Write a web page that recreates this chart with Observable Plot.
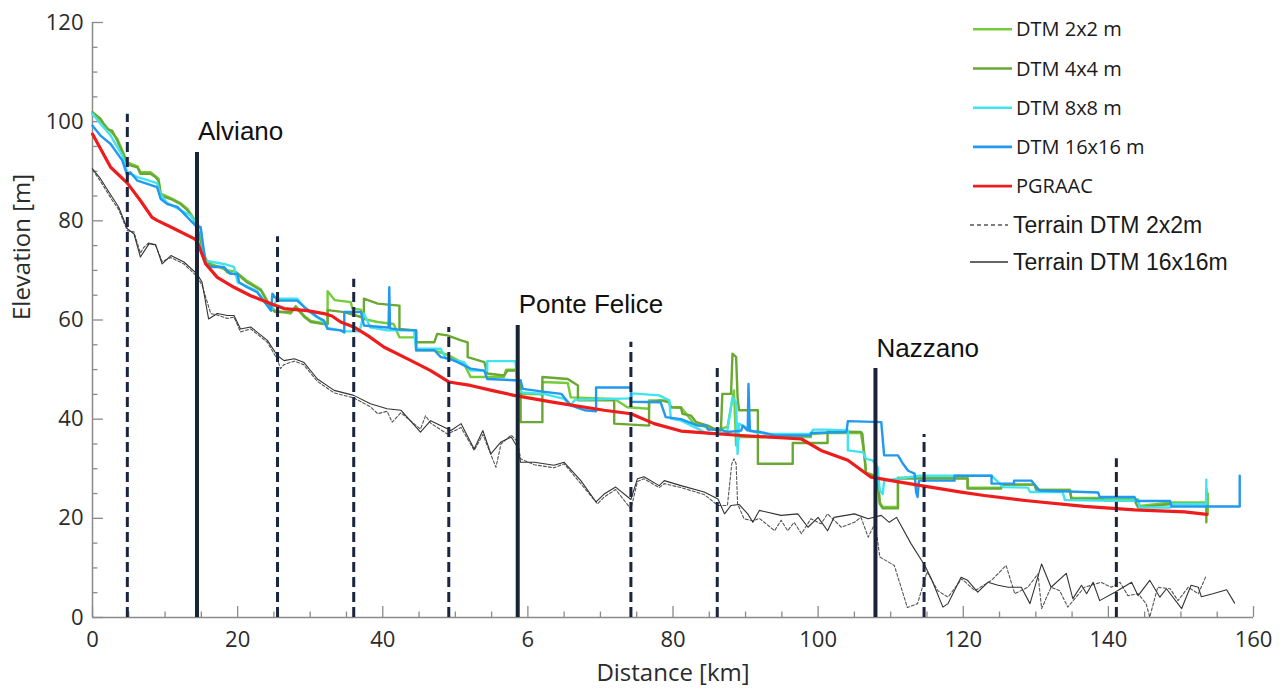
<!DOCTYPE html>
<html><head><meta charset="utf-8">
<script src="https://cdn.jsdelivr.net/npm/d3@7"></script>
<script src="https://cdn.jsdelivr.net/npm/@observablehq/plot@0.6"></script>
<style>
body{margin:0;background:#fff;}
#wrap{position:relative;width:1288px;height:689px;overflow:hidden;}
#wrap svg{position:absolute;left:0;top:0;}
</style></head><body><div id="wrap"></div>
<script>
// ---- axis ticks ----
const xMajor = [0,20,40,60,80,100,120,140,160];
const xTickLabels = ["0","20","40","6","80","100","120","140","160"];
const xMinor = [5,10,15,25,30,35,45,50,55,65,70,75,85,90,95,105,110,115,125,130,135,145,150,155];
const yMajor = [0,20,40,60,80,100,120];
const yMinor = [5,10,15,25,30,35,45,50,55,65,70,75,85,90,95,105,110,115];

// ---- series [distance km, elevation m] ----
const dtm2 = [[0,101.5],[1.1,100.2],[2.0,98.8],[3.4,96.6],[4.8,91.8],[6.2,91.0],[6.6,89.8],[8.0,89.8],[9.1,88.5],[9.4,85.5],[10.8,84.6],[12.1,83.6],[13.1,82.4],[14.0,80.4],[14.4,79.0],[15.6,72.3],[16.3,71.3],[18.6,70.0],[19.7,69.8],[20.2,69.2],[21.3,67.9],[23.2,66.2],[24.6,62.6],[25.2,61.9],[27.3,61.3],[28.0,62.8],[29.2,60.8],[30.1,59.8],[31.9,59.3],[32.4,59.3],[32.4,65.8],[33.4,64.0],[35.6,63.6],[35.8,62.3],[37.0,62.1],[37.4,60.2],[39.3,59.6],[41.5,59.2],[42.3,56.5],[44.6,56.5],[44.6,53.9],[47.1,53.9],[49.2,52.8],[51.2,51.2],[52.1,48.5],[56.7,48.5],[57.0,50.0],[58.6,50.0],[58.8,45.1],[62.0,45.0],[62.0,47.5],[65.5,47.3],[65.9,44.4],[71.9,44.1],[73.7,42.4],[76.7,42.1],[76.7,43.8],[79.3,43.8],[79.7,42.4],[81.1,42.4],[82.9,39.1],[85.7,37.9],[87.5,38.4],[88.4,45.8],[88.7,34.7],[89.1,36.4],[91.2,36.4],[99.0,36.4],[99.0,37.0],[101.3,37.2],[105.9,37.2],[106.4,32.5],[106.6,29.2],[107.5,28.8],[108.2,28.2],[108.5,23.2],[108.9,22.3],[111.0,22.3],[111.0,28.2],[120.6,28.2],[120.6,26.2],[125.2,26.2],[125.5,26.8],[129.8,26.8],[130.1,25.8],[134.7,25.8],[134.9,24.1],[138.8,24.1],[144.1,23.8],[144.3,22.5],[148.7,23.2],[153.7,23.2],[153.7,25.0],[153.7,21.0]];

const dtm4 = [[0,101.9],[1.1,100.6],[2.0,98.5],[2.7,98.2],[3.4,96.2],[4.8,91.5],[5.2,91.2],[6.2,90.8],[6.6,89.5],[8.0,89.5],[8.7,88.8],[9.1,88.1],[9.4,85.1],[10.8,84.4],[12.1,83.4],[13.1,82.1],[14.0,80.1],[14.4,78.7],[15.6,72.0],[16.3,71.0],[18.0,70.6],[18.6,69.6],[20.2,69.0],[21.3,67.6],[23.2,66.0],[24.6,62.3],[25.2,61.6],[27.3,61.6],[28.0,62.6],[29.2,60.6],[30.1,59.6],[31.9,59.2],[32.4,59.2],[32.4,62.0],[34.7,61.6],[37.0,60.6],[37.4,60.2],[37.4,64.3],[39.3,63.3],[42.3,62.9],[42.3,58.2],[44.6,57.9],[44.6,55.5],[47.1,55.5],[47.5,57.2],[48.9,56.9],[50.8,55.9],[51.7,55.5],[51.7,52.5],[54.0,51.5],[54.4,49.2],[56.7,48.8],[57.2,49.8],[58.6,49.8],[58.6,47.8],[59.0,47.8],[59.0,39.4],[62.0,39.4],[62.0,48.5],[65.5,48.1],[66.9,46.8],[66.9,43.8],[71.9,43.8],[71.9,39.1],[76.7,38.7],[76.7,43.4],[78.3,43.8],[79.5,43.4],[79.7,42.4],[81.1,42.3],[81.3,41.1],[82.5,40.7],[83.2,39.4],[84.8,38.7],[86.2,37.7],[86.6,37.7],[86.8,45.1],[88.0,45.1],[88.2,53.2],[88.7,52.5],[88.9,44.4],[89.1,41.8],[91.7,41.8],[91.7,31.0],[96.5,31.0],[96.5,35.2],[101.3,35.2],[101.3,37.5],[105.9,37.4],[106.1,37.0],[106.4,32.3],[106.6,29.0],[107.5,28.6],[108.2,28.0],[108.5,22.9],[108.9,22.0],[111.0,22.0],[111.0,28.0],[120.6,28.0],[120.6,26.0],[125.2,26.0],[125.5,26.8],[129.8,26.8],[130.1,25.6],[134.7,25.6],[134.9,23.9],[139.3,23.9],[139.5,23.6],[143.6,23.6],[144.1,22.2],[148.7,22.9],[153.5,22.9],[153.5,19.2],[153.5,26.0]];

const dtm8 = [[0,101.6],[1.1,99.6],[2.5,97.2],[4.1,93.2],[4.8,89.8],[6.2,88.8],[8.9,87.6],[9.4,85.2],[10.3,83.6],[13.5,81.1],[14.4,79.4],[14.9,78.7],[15.4,72.0],[18.1,71.3],[19.5,70.7],[20.0,67.6],[21.3,66.8],[22.7,65.8],[24.6,61.9],[25.5,64.3],[28.2,64.3],[29.6,61.9],[31.9,59.6],[32.4,58.4],[34.2,57.9],[34.7,57.7],[36.8,57.7],[37.4,61.3],[38.3,58.5],[40.6,57.9],[44.3,57.9],[44.6,54.2],[48.0,54.2],[48.7,52.2],[51.2,51.5],[52.1,49.8],[54.4,49.8],[54.4,51.7],[58.3,51.7],[58.6,45.8],[59.3,45.4],[62.2,45.1],[65.0,44.1],[65.9,42.8],[66.5,43.9],[74.2,44.2],[74.4,45.2],[78.1,44.8],[79.5,43.8],[79.7,40.1],[81.1,39.7],[83.4,38.1],[84.8,37.0],[86.6,37.0],[87.5,37.7],[88.2,44.4],[88.7,43.4],[88.9,33.0],[89.1,39.1],[91.2,37.4],[93.0,37.0],[99.0,37.0],[99.3,37.9],[101.3,37.9],[104.1,37.7],[104.1,33.7],[106.2,33.3],[106.6,32.0],[107.5,31.7],[108.2,30.3],[108.5,25.6],[108.9,24.9],[109.1,27.6],[111.0,28.0],[114.0,28.6],[123.9,28.6],[125.5,26.3],[128.9,26.2],[129.2,25.3],[133.7,25.3],[134.0,23.7],[138.8,23.6],[144.1,23.6],[144.3,22.2],[148.5,22.2],[148.7,22.9],[153.5,22.9],[153.5,27.8],[153.5,22.9]];

const dtm16 = [[0,99.2],[1.1,97.2],[2.5,95.5],[4.1,92.2],[4.8,89.1],[5.2,89.8],[6.2,88.1],[8.9,86.8],[9.4,84.4],[10.3,83.4],[11.7,82.8],[13.5,80.1],[14.4,78.7],[14.9,78.7],[15.6,71.3],[16.3,70.7],[18.1,70.7],[19.0,69.3],[20.0,69.3],[20.2,67.6],[21.3,66.6],[22.7,65.6],[24.6,61.9],[24.8,65.3],[25.5,63.9],[28.2,63.9],[29.2,62.6],[31.0,60.6],[31.9,59.9],[32.4,58.2],[34.2,57.9],[34.7,57.5],[34.7,61.6],[37.0,61.6],[37.4,58.9],[40.6,58.5],[40.8,58.5],[40.9,66.6],[41.0,58.3],[42.5,58.0],[44.6,57.9],[44.6,53.9],[47.1,53.9],[48.0,52.5],[49.2,52.2],[50.3,51.5],[52.1,50.2],[54.0,49.8],[54.4,48.1],[59.0,47.8],[59.3,46.1],[61.8,45.6],[64.6,45.1],[65.9,42.8],[67.8,41.8],[69.4,41.6],[69.4,46.4],[74.2,46.4],[74.2,43.5],[78.3,43.4],[79.0,40.4],[81.1,40.0],[83.4,38.7],[84.6,38.7],[84.8,37.9],[86.6,37.9],[87.5,37.4],[89.4,37.7],[89.6,38.7],[90.3,37.7],[90.4,47.1],[90.6,37.6],[92.1,37.4],[94.0,36.7],[99.0,36.7],[99.0,37.2],[103.9,37.4],[104.1,39.6],[108.7,39.4],[109.1,32.7],[111.0,32.7],[111.7,31.0],[112.4,29.6],[113.3,29.0],[113.5,25.3],[113.7,24.3],[113.9,27.6],[118.8,27.6],[118.8,28.6],[123.9,28.6],[123.9,27.0],[127.0,27.0],[127.0,27.6],[129.4,27.6],[130.5,25.6],[138.6,25.2],[138.8,24.3],[143.6,24.3],[143.9,23.5],[148.5,23.5],[148.7,22.4],[158.1,22.4],[158.1,28.6]];

const pgraac = [[0,97.5],[2.5,90.8],[4.8,87.6],[6.6,84.1],[8.2,80.7],[8.9,80.1],[11.0,78.6],[14.0,76.4],[14.4,76.0],[15.6,71.3],[17.2,68.6],[19.5,66.6],[21.8,64.9],[24.6,63.3],[26.4,62.3],[29.6,61.9],[31.9,61.3],[33.0,60.8],[34.2,59.6],[36.0,58.6],[38.0,56.8],[40.2,54.5],[43.9,51.8],[46.6,49.8],[49.1,47.5],[52.1,46.8],[55.0,45.8],[58.1,44.8],[63.6,43.4],[70.5,41.8],[74.2,41.1],[77.4,39.1],[81.1,37.6],[83.0,37.4],[89.4,36.7],[97.7,36.0],[100.4,33.7],[104.1,31.7],[107.3,28.3],[110.5,27.5],[114.2,26.6],[119.7,25.3],[122.9,24.6],[128.5,23.6],[136.7,22.4],[143.6,21.7],[150.5,21.3],[153.6,20.8]];

const terrain16 = [[0,90.5],[1.1,88.5],[2.7,84.8],[3.6,82.8],[4.8,78.4],[5.7,77.4],[6.6,72.7],[7.8,75.4],[8.7,75.2],[9.6,71.3],[10.8,73.0],[12.6,71.7],[14.4,69.3],[15.1,67.6],[16.0,60.2],[17.2,61.3],[18.6,60.9],[19.5,60.9],[20.4,58.2],[21.8,58.6],[24.1,55.9],[25.5,52.8],[26.4,51.8],[27.8,52.2],[29.1,51.5],[31.0,48.1],[33.3,45.8],[36.0,44.8],[38.3,43.1],[40.6,42.1],[42.5,41.8],[45.2,37.4],[46.6,39.7],[49.4,37.7],[50.8,39.1],[52.6,34.0],[53.8,37.7],[54.9,33.0],[56.3,35.4],[57.7,36.4],[58.6,34.3],[59.0,31.3],[60.9,31.3],[63.6,30.7],[65.0,31.3],[67.3,27.6],[69.4,23.3],[70.5,24.9],[72.1,26.3],[74.2,23.8],[75.1,28.0],[76.0,28.4],[78.1,26.6],[78.8,27.6],[81.1,26.6],[84.3,25.3],[86.2,23.9],[87.1,20.9],[88.0,22.6],[89.1,22.8],[90.3,20.9],[91.0,19.2],[91.9,21.6],[94.9,20.6],[97.2,20.9],[98.6,18.2],[100.0,20.2],[101.3,17.5],[102.2,20.2],[105.0,20.9],[106.9,19.9],[108.7,20.6],[109.8,19.2],[110.8,20.2],[112.8,14.9],[114.7,10.5],[115.6,7.8],[117.2,2.1],[117.9,2.8],[119.7,8.1],[120.6,7.5],[122.0,5.1],[123.4,7.1],[124.8,6.5],[126.2,6.1],[128.0,6.1],[129.2,2.8],[130.8,10.8],[132.1,6.1],[134.2,8.9],[135.1,3.8],[136.3,6.5],[137.0,4.8],[137.9,7.1],[138.8,3.4],[140.9,5.1],[143.2,7.1],[144.1,4.4],[145.7,7.5],[147.1,4.1],[148.0,5.8],[150.1,1.8],[151.4,6.5],[152.4,6.1],[152.8,4.2],[154.4,4.8],[156.3,5.6],[157.4,2.9]];

const terrain2 = [[0,90.3],[1.1,88.0],[2.7,84.2],[3.6,82.3],[4.8,78.0],[5.7,77.8],[6.6,73.5],[7.1,74.7],[7.8,75.6],[8.7,75.0],[9.6,71.8],[10.8,72.6],[12.6,71.3],[14.4,68.8],[15.1,67.0],[16.3,61.3],[17.2,61.0],[18.6,60.3],[19.5,60.6],[20.4,57.6],[21.8,58.2],[24.1,55.5],[25.5,52.0],[25.9,50.2],[26.4,51.0],[27.8,51.7],[29.1,51.0],[31.0,47.6],[33.3,45.3],[36.0,44.3],[38.3,42.5],[39.3,41.1],[40.6,41.6],[41.3,39.4],[42.5,41.3],[45.2,38.0],[45.9,40.7],[46.6,39.2],[48.9,37.0],[50.8,38.3],[52.6,33.7],[53.8,36.9],[55.6,30.3],[56.3,35.0],[57.7,36.8],[58.6,35.4],[59.0,32.0],[60.9,30.8],[63.6,30.2],[65.0,31.0],[67.3,27.0],[69.6,22.9],[70.5,24.3],[72.1,25.8],[74.2,21.9],[75.1,27.4],[76.0,28.0],[78.1,26.2],[78.8,27.0],[81.1,26.2],[84.3,24.8],[86.2,22.6],[87.5,22.6],[88.1,31.0],[88.4,32.0],[88.7,31.0],[88.9,22.9],[89.8,19.9],[91.0,19.5],[91.9,20.0],[94.0,17.5],[94.9,19.6],[95.8,17.5],[96.7,19.2],[97.7,16.9],[99.0,19.9],[100.4,18.9],[101.3,20.9],[103.2,18.2],[105.0,19.2],[105.9,20.2],[106.9,16.2],[107.8,18.9],[108.2,15.5],[108.5,12.2],[110.5,10.5],[112.3,2.0],[113.7,2.8],[115.0,9.2],[116.5,5.4],[117.9,4.1],[119.8,7.8],[121.6,5.4],[123.9,7.5],[125.9,10.5],[127.1,4.8],[128.9,6.1],[130.3,8.8],[130.8,1.8],[132.1,6.1],[133.3,5.4],[134.4,2.1],[136.7,6.1],[139.0,7.1],[140.4,6.1],[141.6,7.1],[142.7,4.4],[144.1,4.8],[145.2,2.8],[145.7,0.1],[146.8,6.1],[148.5,5.8],[149.6,3.4],[151.0,6.1],[152.4,4.8],[153.5,8.5]];

// ---- reference sections ----
const stations = [
  {name: "Alviano", x: 14.4, top: 93.8},
  {name: "Ponte Felice", x: 58.6, top: 58.9},
  {name: "Nazzano", x: 107.9, top: 50.2}
];
const sections = [
  {x: 4.8, top: 101.5}, {x: 25.5, top: 76.8}, {x: 36.0, top: 68.2}, {x: 49.1, top: 58.5},
  {x: 74.2, top: 55.5}, {x: 86.1, top: 50.2}, {x: 114.6, top: 36.9}, {x: 141.1, top: 32.0}
];

// ---- legend ----
const legendLabels = ["DTM 2x2 m","DTM 4x4 m","DTM 8x8 m","DTM 16x16 m","PGRAAC","Terrain DTM 2x2m","Terrain DTM 16x16m"];
const cols = {d2: "#74cc3a", d4: "#6aa833", d8: "#3fe4f0", d16: "#2299ee", red: "#ee1c1c", t2: "#555555", t16: "#333333"};
const legendColors = [cols.d2, cols.d4, cols.d8, cols.d16, cols.red, cols.t2, cols.t16];

const axisGray = "#8a8a8a";
const X = d => d[0], Y = d => d[1];

const chart = Plot.plot({
  width: 1288, height: 689,
  marginLeft: 92, marginRight: 35, marginTop: 22, marginBottom: 72,
  x: {domain: [0, 160]},
  y: {domain: [0, 120]},
  style: {fontFamily: "'Open Sans', sans-serif", background: "white", color: "#333"},
  marks: [
    Plot.ruleY([0], {stroke: axisGray, strokeWidth: 1.5}),
    Plot.ruleX([0], {y1: 0, y2: 120, stroke: axisGray, strokeWidth: 1.5}),
    Plot.ruleX(xMajor, {x: d => d, y1: 0, y2: 2.2, stroke: axisGray, strokeWidth: 1.3}),
    Plot.ruleX(xMinor, {x: d => d, y1: 0, y2: 1.1, stroke: axisGray, strokeWidth: 1.3}),
    Plot.ruleY(yMajor, {y: d => d, x1: 0, x2: 1.5, stroke: axisGray, strokeWidth: 1.3}),
    Plot.ruleY(yMinor, {y: d => d, x1: 0, x2: 0.75, stroke: axisGray, strokeWidth: 1.3}),
    Plot.axisX({ticks: xMajor, tickSize: 0, tickPadding: 14, label: null, fontSize: 22, fill: "#2b2b2b",
      tickFormat: d => xTickLabels[xMajor.indexOf(d)]}),
    Plot.axisY({ticks: yMajor, tickSize: 0, tickPadding: 9, label: null, fontSize: 22, fill: "#2b2b2b"}),
    Plot.text(["Distance [km]"], {frameAnchor: "bottom", dy: 46, lineAnchor: "top", fontSize: 24, fill: "#2b2b2b"}),
    Plot.text(["Elevation [m]"], {frameAnchor: "left", dx: -70, rotate: -90, lineAnchor: "middle", fontSize: 24, fill: "#2b2b2b"}),

    Plot.line(terrain2, {x: X, y: Y, stroke: cols.t2, strokeWidth: 1.1, strokeDasharray: "3,2"}),
    Plot.line(terrain16, {x: X, y: Y, stroke: cols.t16, strokeWidth: 1.1}),
    Plot.line(dtm2, {x: X, y: Y, stroke: cols.d2, strokeWidth: 2.4}),
    Plot.line(dtm4, {x: X, y: Y, stroke: cols.d4, strokeWidth: 2.4}),
    Plot.line(dtm8, {x: X, y: Y, stroke: cols.d8, strokeWidth: 2.4}),
    Plot.line(dtm16, {x: X, y: Y, stroke: cols.d16, strokeWidth: 2.4}),
    Plot.line(pgraac, {x: X, y: Y, stroke: cols.red, strokeWidth: 3.2}),

    Plot.ruleX(sections, {x: "x", y1: 0, y2: "top", stroke: "#1b2540", strokeWidth: 3, strokeDasharray: "10,5"}),
    Plot.ruleX(stations, {x: "x", y1: 0, y2: "top", stroke: "#1b2338", strokeWidth: 4}),
    Plot.text(stations, {x: "x", y: "top", text: "name", dy: -12, dx: 1, textAnchor: "start", lineAnchor: "bottom",
      fontSize: 26, fontFamily: "'Liberation Sans', Arial, sans-serif", fill: "#111"})
  ]
});

const wrap = document.getElementById("wrap");
wrap.appendChild(chart);

// legend overlay
const lg = d3.select(wrap).append("svg").attr("width", 1288).attr("height", 689).attr("id", "legend");
legendLabels.forEach((lab, i) => {
  const terrain = i >= 5;
  const cy = terrain ? (i === 5 ? 225 : 262) : 29.3 + i * 39.2;
  const x1 = terrain ? 970 : 973, x2 = terrain ? 1008 : 1012;
  lg.append("line").attr("x1", x1).attr("x2", x2).attr("y1", cy).attr("y2", cy)
    .attr("stroke", legendColors[i]).attr("stroke-width", terrain ? 1.6 : 2.6)
    .attr("stroke-dasharray", i === 5 ? "4,3" : null);
  const fs = terrain ? 23 : 20;
  lg.append("text").attr("x", terrain ? 1013 : 1016).attr("y", cy + (terrain ? 8.2 : 7.1))
    .attr("font-size", fs)
    .attr("font-family", terrain ? "'Liberation Sans', Arial, sans-serif" : "'Open Sans', sans-serif")
    .attr("fill", "#1a1a1a").text(lab);
});
</script></body></html>
